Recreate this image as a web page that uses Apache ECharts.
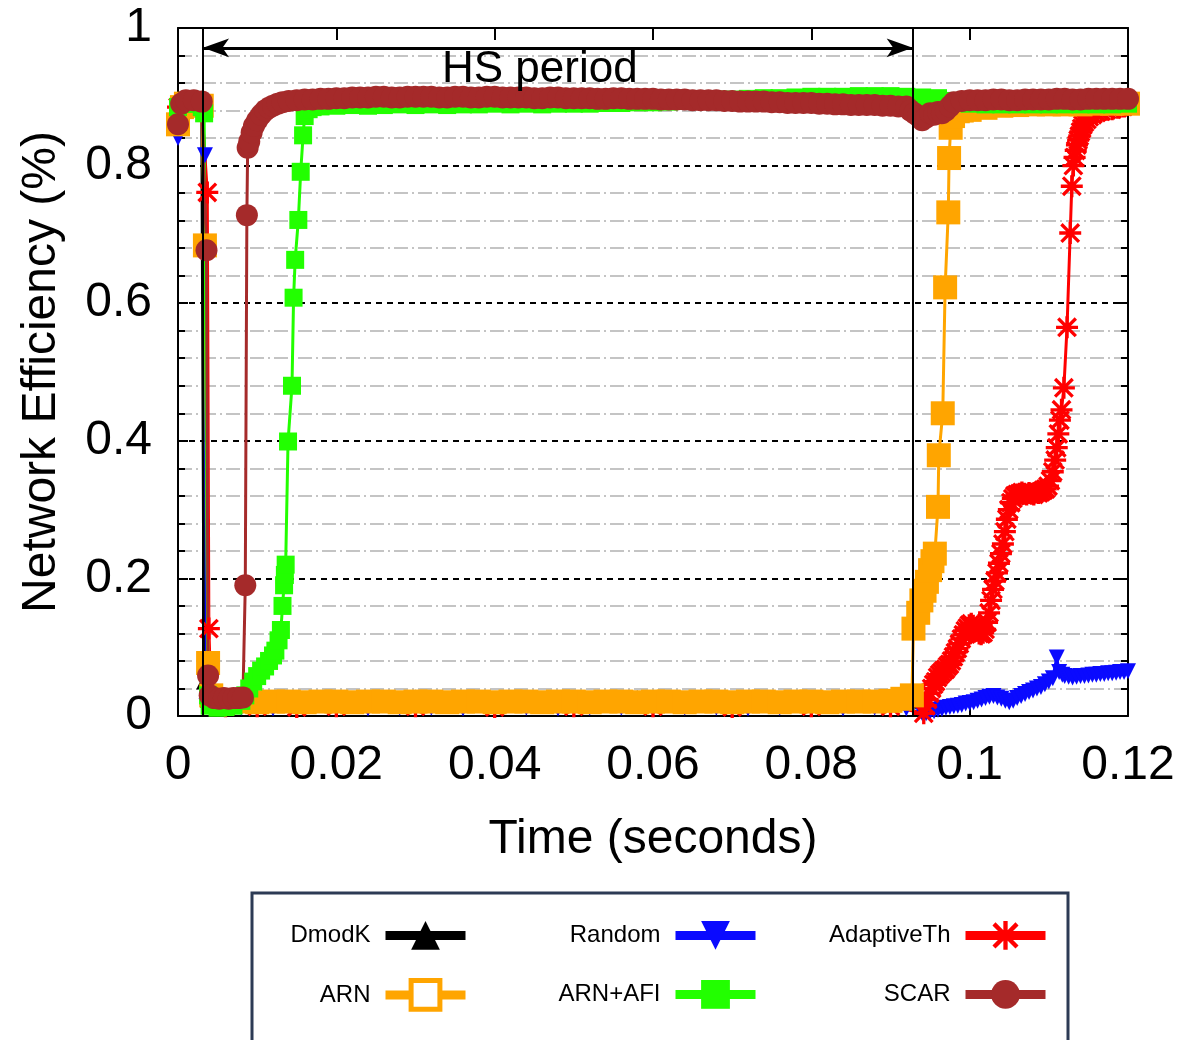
<!DOCTYPE html>
<html>
<head>
<meta charset="utf-8">
<title>Network Efficiency</title>
<script src="https://cdn.jsdelivr.net/npm/echarts@6/dist/echarts.min.js"></script>
<style>
  html, body { margin: 0; padding: 0; background: #fff; }
  #chart { width: 1189px; height: 1040px; }
</style>
</head>
<body>
<div id="chart"></div>
<script>
const FONT = 'Liberation Sans'

const xTickLabels = ['0', '0.02', '0.04', '0.06', '0.08', '0.1', '0.12']
const yTickLabels = ['0', '0.2', '0.4', '0.6', '0.8', '1']
const seriesNames = ['DmodK', 'Random', 'AdaptiveTh', 'ARN', 'ARN+AFI', 'SCAR']

// HS period boundaries (seconds)
const hsStart = 0.00316
const hsEnd = 0.0928

// [time, efficiency]
const dmodK = [
  [0, 0.885], [0.001, 0.89], [0.002, 0.89], [0.003, 0.888], [0.0033, 0.05], [0.0038, 0.024],
  [0.006, 0.022], [0.01, 0.023], [0.014, 0.022], [0.018, 0.023], [0.022, 0.022], [0.026, 0.024],
  [0.03, 0.027], [0.034, 0.022], [0.038, 0.022], [0.042, 0.022], [0.046, 0.023], [0.05, 0.022],
  [0.054, 0.022], [0.058, 0.026], [0.062, 0.023], [0.066, 0.022], [0.07, 0.023], [0.074, 0.022],
  [0.078, 0.022], [0.082, 0.023], [0.086, 0.026], [0.09, 0.022], [0.0925, 0.022]
]

const random = [
  [0, 0.84], [0.001, 0.885], [0.002, 0.89], [0.003, 0.886], [0.0034, 0.815], [0.0036, 0.014],
  [0.004, 0.012], [0.008, 0.012], [0.012, 0.011], [0.016, 0.012], [0.02, 0.012], [0.024, 0.011],
  [0.028, 0.012], [0.032, 0.012], [0.036, 0.011], [0.04, 0.012], [0.044, 0.012], [0.048, 0.011],
  [0.052, 0.012], [0.056, 0.012], [0.06, 0.011], [0.064, 0.012], [0.068, 0.012], [0.072, 0.011],
  [0.076, 0.012], [0.08, 0.012], [0.084, 0.011], [0.088, 0.012], [0.092, 0.011], [0.094, 0.004],
  [0.0945, 0.004], [0.095, 0.006], [0.0955, 0.007], [0.096, 0.009], [0.0965, 0.01], [0.097, 0.012],
  [0.0975, 0.013], [0.098, 0.014], [0.0985, 0.015], [0.099, 0.016], [0.0995, 0.018], [0.1, 0.019],
  [0.1005, 0.02], [0.101, 0.022], [0.1015, 0.024], [0.102, 0.026], [0.1025, 0.028], [0.103, 0.029],
  [0.1035, 0.027], [0.104, 0.025], [0.1045, 0.022], [0.105, 0.02], [0.1055, 0.022], [0.106, 0.026],
  [0.1065, 0.029], [0.107, 0.032], [0.1075, 0.035], [0.108, 0.037], [0.1085, 0.04], [0.109, 0.042],
  [0.1095, 0.046], [0.11, 0.05], [0.1105, 0.055], [0.111, 0.085], [0.1113, 0.064], [0.1117, 0.06],
  [0.112, 0.058], [0.1125, 0.057], [0.113, 0.056], [0.1135, 0.057], [0.114, 0.058], [0.1145, 0.058],
  [0.115, 0.059], [0.1155, 0.06], [0.116, 0.06], [0.1165, 0.061], [0.117, 0.061], [0.1175, 0.062],
  [0.118, 0.062], [0.1185, 0.063], [0.119, 0.064], [0.1195, 0.064], [0.12, 0.065]
]

const adaptiveTh = [
  [0, 0.885], [0.001, 0.89], [0.002, 0.89], [0.003, 0.886], [0.0037, 0.761], [0.0039, 0.127],
  [0.0042, 0.016], [0.006, 0.014], [0.01, 0.014], [0.015, 0.013], [0.02, 0.014], [0.03, 0.014],
  [0.04, 0.013], [0.05, 0.014], [0.06, 0.014], [0.07, 0.013], [0.08, 0.014], [0.09, 0.014],
  [0.0942, 0.004], [0.09445, 0.015], [0.0947, 0.024], [0.09495, 0.033], [0.0952, 0.04], [0.09545, 0.046],
  [0.0957, 0.05], [0.09595, 0.056], [0.0962, 0.06], [0.09645, 0.063], [0.0967, 0.066], [0.09695, 0.068],
  [0.0972, 0.072], [0.09745, 0.075], [0.0977, 0.08], [0.09795, 0.086], [0.0982, 0.092], [0.09845, 0.098],
  [0.0987, 0.105], [0.09895, 0.112], [0.0992, 0.118], [0.09945, 0.124], [0.0997, 0.128], [0.09995, 0.132],
  [0.1002, 0.134], [0.10045, 0.131], [0.1007, 0.127], [0.10095, 0.124], [0.1012, 0.12], [0.10145, 0.119],
  [0.1017, 0.121], [0.10195, 0.126], [0.1022, 0.136], [0.10245, 0.15], [0.1027, 0.168], [0.10295, 0.184],
  [0.1032, 0.196], [0.10345, 0.208], [0.1037, 0.222], [0.10395, 0.236], [0.1042, 0.25], [0.10445, 0.268],
  [0.1047, 0.286], [0.10495, 0.3], [0.1052, 0.31], [0.10545, 0.316], [0.1057, 0.32], [0.106, 0.322],
  [0.1063, 0.323], [0.1066, 0.325], [0.1069, 0.323], [0.1072, 0.322], [0.1075, 0.324], [0.1078, 0.323],
  [0.1081, 0.322], [0.1084, 0.325], [0.1087, 0.324], [0.109, 0.326], [0.1093, 0.328], [0.1096, 0.33],
  [0.1099, 0.334], [0.1102, 0.342], [0.1105, 0.355], [0.1108, 0.372], [0.111, 0.39], [0.1112, 0.41],
  [0.1114, 0.43], [0.1116, 0.445], [0.1119, 0.477], [0.1123, 0.565], [0.1127, 0.702], [0.1129, 0.77],
  [0.1131, 0.8], [0.11325, 0.812], [0.1134, 0.822], [0.11355, 0.83], [0.1137, 0.837], [0.11385, 0.843],
  [0.114, 0.849], [0.11415, 0.854], [0.1143, 0.859], [0.1145, 0.863], [0.1148, 0.867], [0.1151, 0.871],
  [0.1155, 0.874], [0.116, 0.877], [0.1166, 0.879], [0.1173, 0.881], [0.118, 0.882], [0.1187, 0.884],
  [0.1194, 0.886], [0.12, 0.888]
]

const arn = [
  [0, 0.86], [0.0005, 0.885], [0.001, 0.89], [0.002, 0.89], [0.003, 0.887], [0.0034, 0.684],
  [0.0038, 0.077], [0.0042, 0.03], [0.005, 0.022], [0.006, 0.021], [0.008, 0.021], [0.01, 0.02],
  [0.012, 0.021], [0.014, 0.021], [0.016, 0.02], [0.018, 0.021], [0.02, 0.021], [0.022, 0.02],
  [0.024, 0.021], [0.026, 0.021], [0.028, 0.02], [0.03, 0.021], [0.032, 0.021], [0.034, 0.02],
  [0.036, 0.021], [0.038, 0.021], [0.04, 0.02], [0.042, 0.021], [0.044, 0.021], [0.046, 0.02],
  [0.048, 0.021], [0.05, 0.021], [0.052, 0.02], [0.054, 0.021], [0.056, 0.021], [0.058, 0.02],
  [0.06, 0.021], [0.062, 0.021], [0.064, 0.02], [0.066, 0.021], [0.068, 0.021], [0.07, 0.02],
  [0.072, 0.021], [0.074, 0.021], [0.076, 0.02], [0.078, 0.021], [0.08, 0.021], [0.082, 0.02],
  [0.084, 0.021], [0.086, 0.021], [0.088, 0.021], [0.09, 0.022], [0.0915, 0.025], [0.0927, 0.03],
  [0.0929, 0.127], [0.0935, 0.15], [0.0939, 0.168], [0.0943, 0.182], [0.0946, 0.195], [0.095, 0.212],
  [0.0953, 0.225], [0.0956, 0.236], [0.096, 0.304], [0.0961, 0.379], [0.0966, 0.44], [0.0969, 0.623],
  [0.0973, 0.732], [0.0974, 0.811], [0.0976, 0.855], [0.0979, 0.872], [0.0985, 0.879], [0.099, 0.88],
  [0.1, 0.881], [0.102, 0.884], [0.104, 0.887], [0.106, 0.888], [0.108, 0.889], [0.11, 0.889],
  [0.112, 0.889], [0.114, 0.889], [0.116, 0.89], [0.118, 0.89], [0.12, 0.89]
]

const arnAfi = [
  [0, 0.885], [0.001, 0.89], [0.002, 0.89], [0.003, 0.885], [0.0033, 0.876],
  [0.0038, 0.03], [0.004, 0.015], [0.005, 0.012], [0.006, 0.013], [0.007, 0.015], [0.008, 0.022],
  [0.0085, 0.03], [0.009, 0.04], [0.0095, 0.05], [0.01, 0.058], [0.0105, 0.066], [0.011, 0.072],
  [0.0115, 0.08], [0.012, 0.088], [0.0123, 0.095], [0.0127, 0.11], [0.013, 0.125], [0.0132, 0.16],
  [0.0134, 0.19], [0.0135, 0.205], [0.0136, 0.22], [0.0139, 0.399], [0.0144, 0.48], [0.0146, 0.608],
  [0.0148, 0.663], [0.0152, 0.721], [0.0155, 0.791], [0.0158, 0.844], [0.016, 0.872], [0.0165, 0.882],
  [0.017, 0.885], [0.018, 0.886], [0.02, 0.887], [0.022, 0.888], [0.024, 0.887], [0.026, 0.888],
  [0.028, 0.889], [0.03, 0.888], [0.032, 0.889], [0.034, 0.888], [0.036, 0.889], [0.038, 0.889],
  [0.04, 0.89], [0.042, 0.889], [0.044, 0.89], [0.046, 0.889], [0.048, 0.89], [0.05, 0.89],
  [0.052, 0.89], [0.054, 0.891], [0.056, 0.891], [0.058, 0.892], [0.06, 0.892], [0.062, 0.893],
  [0.064, 0.894], [0.066, 0.895], [0.068, 0.896], [0.07, 0.896], [0.072, 0.897], [0.074, 0.898],
  [0.076, 0.898], [0.078, 0.899], [0.08, 0.9], [0.082, 0.9], [0.084, 0.9], [0.086, 0.901],
  [0.088, 0.901], [0.09, 0.901], [0.092, 0.9], [0.094, 0.899], [0.096, 0.898], [0.098, 0.894],
  [0.1, 0.89], [0.102, 0.889], [0.104, 0.889], [0.106, 0.889], [0.108, 0.889], [0.11, 0.889],
  [0.112, 0.889], [0.114, 0.889], [0.116, 0.889], [0.118, 0.889], [0.12, 0.89]
]

const scar = [
  [0, 0.86], [0.0004, 0.89], [0.001, 0.895], [0.002, 0.895], [0.003, 0.893], [0.0036, 0.677],
  [0.0038, 0.059], [0.004, 0.03], [0.0046, 0.026], [0.0052, 0.025], [0.0058, 0.026], [0.0064, 0.025],
  [0.007, 0.026], [0.0076, 0.026], [0.0082, 0.027], [0.0085, 0.19], [0.0087, 0.728], [0.0088, 0.826],
  [0.009, 0.835], [0.0093, 0.848], [0.0096, 0.858], [0.01, 0.866], [0.0105, 0.874], [0.011, 0.88],
  [0.0115, 0.884], [0.012, 0.887], [0.0126, 0.89], [0.0132, 0.892], [0.014, 0.894], [0.015, 0.895],
  [0.016, 0.896], [0.017, 0.896], [0.018, 0.897], [0.019, 0.897], [0.02, 0.898], [0.021, 0.898],
  [0.022, 0.899], [0.023, 0.899], [0.024, 0.899], [0.025, 0.9], [0.026, 0.9], [0.027, 0.899],
  [0.028, 0.899], [0.029, 0.9], [0.03, 0.9], [0.031, 0.9], [0.032, 0.9], [0.033, 0.899],
  [0.034, 0.899], [0.035, 0.9], [0.036, 0.9], [0.037, 0.899], [0.038, 0.899], [0.039, 0.9],
  [0.04, 0.9], [0.041, 0.899], [0.042, 0.899], [0.043, 0.899], [0.044, 0.899], [0.045, 0.898],
  [0.046, 0.898], [0.047, 0.899], [0.048, 0.899], [0.049, 0.898], [0.05, 0.898], [0.051, 0.898],
  [0.052, 0.898], [0.053, 0.897], [0.054, 0.897], [0.055, 0.898], [0.056, 0.898], [0.057, 0.897],
  [0.058, 0.897], [0.059, 0.897], [0.06, 0.897], [0.061, 0.896], [0.062, 0.896], [0.063, 0.896],
  [0.064, 0.896], [0.065, 0.895], [0.066, 0.895], [0.067, 0.895], [0.068, 0.895], [0.069, 0.894],
  [0.07, 0.894], [0.071, 0.893], [0.072, 0.893], [0.073, 0.893], [0.074, 0.893], [0.075, 0.892],
  [0.076, 0.892], [0.077, 0.891], [0.078, 0.891], [0.079, 0.891], [0.08, 0.891], [0.081, 0.89],
  [0.082, 0.89], [0.083, 0.889], [0.084, 0.889], [0.085, 0.888], [0.086, 0.888], [0.087, 0.888],
  [0.088, 0.888], [0.089, 0.887], [0.09, 0.887], [0.091, 0.886], [0.092, 0.886], [0.0925, 0.88],
  [0.093, 0.876], [0.0935, 0.872], [0.094, 0.866], [0.0945, 0.87], [0.095, 0.876], [0.0955, 0.874],
  [0.096, 0.878], [0.0965, 0.876], [0.097, 0.88], [0.0975, 0.886], [0.098, 0.892], [0.099, 0.894],
  [0.1, 0.895], [0.101, 0.895], [0.102, 0.895], [0.103, 0.896], [0.104, 0.896], [0.105, 0.895],
  [0.106, 0.895], [0.107, 0.896], [0.108, 0.896], [0.109, 0.896], [0.11, 0.896], [0.111, 0.897],
  [0.112, 0.897], [0.113, 0.896], [0.114, 0.896], [0.115, 0.897], [0.116, 0.897], [0.117, 0.897],
  [0.118, 0.897], [0.119, 0.897], [0.12, 0.897]
]

const asterisk = 'path://M8.5,0H11.5V20H8.5Z M0,8.5H20V11.5H0Z' +
  ' M3.06,0.94L19.06,16.94L16.94,19.06L0.94,3.06Z M16.94,0.94L19.06,3.06L3.06,19.06L0.94,16.94Z'
const downTriangle = 'path://M0,0L20,0L10,18Z'

function lineSeries(name, data, color, symbol, size) {
  return {
    name: name,
    type: 'line',
    data: data,
    symbol: symbol,
    symbolSize: size,
    showSymbol: true,
    showAllSymbol: true,
    lineStyle: { color: color, width: 3 },
    itemStyle: { color: color },
    emphasis: { disabled: true },
    z: 3
  }
}

function legendAt(name, right, top, extra) {
  return {
    data: [Object.assign({ name: name }, extra || {})],
    right: right,
    top: top,
    align: 'right',
    padding: 0,
    itemWidth: 80,
    itemHeight: 36,
    selectedMode: false,
    lineStyle: { width: 9 },
    textStyle: { fontFamily: FONT, fontSize: 24, color: '#000', padding: [0, 10, 0, 0] }
  }
}

const noZero = { onZero: false, lineStyle: { color: '#000', width: 2 } }

const chart = echarts.init(document.getElementById('chart'))

chart.setOption({
  animation: false,
  backgroundColor: '#fff',
  grid: { left: 178, right: 61, top: 28, bottom: 324 },
  legend: [
    legendAt(seriesNames[0], 719, 921),
    legendAt(seriesNames[1], 429, 921),
    legendAt(seriesNames[2], 139, 921),
    legendAt(seriesNames[3], 719, 978, { itemStyle: { color: '#fff', borderColor: '#ffa500', borderWidth: 5 } }),
    legendAt(seriesNames[4], 429, 980),
    legendAt(seriesNames[5], 139, 980)
  ],
  graphic: [{
    type: 'rect',
    shape: { x: 252, y: 893, width: 816, height: 170 },
    style: { fill: 'none', stroke: '#2d3b55', lineWidth: 3 },
    silent: true
  }],
  xAxis: [{
    type: 'value',
    position: 'bottom',
    min: 0,
    max: 0.12,
    interval: 0.02,
    name: 'Time (seconds)',
    nameLocation: 'middle',
    nameGap: 100,
    nameTextStyle: { fontFamily: FONT, fontSize: 48, color: '#000' },
    axisLine: noZero,
    axisTick: { inside: true, length: 10, lineStyle: { color: '#000', width: 2 } },
    axisLabel: {
      margin: 26,
      fontFamily: FONT,
      fontSize: 48,
      color: '#000',
      formatter: (v) => xTickLabels[Math.round(v / 0.02)]
    },
    splitLine: { show: false }
  }, {
    type: 'value',
    position: 'top',
    min: 0,
    max: 0.12,
    interval: 0.02,
    axisLine: noZero,
    axisTick: { inside: true, length: 12, lineStyle: { color: '#000', width: 2 } },
    axisLabel: { show: false },
    splitLine: { show: false }
  }],
  yAxis: [{
    type: 'value',
    position: 'left',
    min: 0,
    max: 1,
    interval: 0.2,
    name: 'Network Efficiency (%)',
    nameLocation: 'middle',
    nameGap: 112,
    nameTextStyle: { fontFamily: FONT, fontSize: 48, color: '#000' },
    axisLine: noZero,
    axisTick: { inside: true, length: 10, lineStyle: { color: '#000', width: 2 } },
    minorTick: { show: true, splitNumber: 5, length: 7, lineStyle: { color: '#000', width: 2 } },
    axisLabel: {
      margin: 26,
      fontFamily: FONT,
      fontSize: 48,
      color: '#000',
      formatter: (v) => yTickLabels[Math.round(v / 0.2)]
    },
    splitLine: { show: true, lineStyle: { color: '#000', width: 2, type: [6, 5] } },
    minorSplitLine: { show: true, lineStyle: { color: '#c4c4c4', width: 2, type: [14, 4, 2, 4] } }
  }, {
    type: 'value',
    position: 'right',
    min: 0,
    max: 1,
    interval: 0.2,
    axisLine: noZero,
    axisTick: { inside: true, length: 10, lineStyle: { color: '#000', width: 2 } },
    minorTick: { show: true, splitNumber: 5, length: 7, lineStyle: { color: '#000', width: 2 } },
    axisLabel: { show: false },
    splitLine: { show: false }
  }],
  series: [
    {
      // HS period boundaries
      type: 'line',
      data: [],
      z: 1,
      silent: true,
      markLine: {
        silent: true,
        animation: false,
        precision: 6,
        symbol: 'none',
        label: { show: false },
        lineStyle: { color: '#000', width: 2, type: 'solid' },
        data: [{ xAxis: hsStart }, { xAxis: hsEnd }]
      }
    },
    {
      type: 'line',
      data: [],
      z: 1,
      silent: true,
      markLine: {
        silent: true,
        animation: false,
        precision: 6,
        symbol: ['arrow', 'arrow'],
        symbolSize: [14, 26],
        label: { show: false },
        lineStyle: { color: '#000', width: 3, type: 'solid' },
        data: [[{ coord: [hsStart, 0.9712] }, { coord: [hsEnd, 0.9712] }]]
      },
      markPoint: {
        silent: true,
        animation: false,
        symbol: 'circle',
        symbolSize: 1,
        itemStyle: { color: 'transparent' },
        label: {
          show: true,
          position: 'inside',
          formatter: 'HS period',
          fontFamily: FONT,
          fontSize: 44,
          color: '#000'
        },
        data: [{ coord: [0.0457, 0.939] }]
      }
    },
    lineSeries(seriesNames[0], dmodK, '#000000', 'triangle', 16),
    lineSeries(seriesNames[1], random, '#0a0aff', downTriangle, 16),
    lineSeries(seriesNames[2], adaptiveTh, '#ff0000', asterisk, 22),
    lineSeries(seriesNames[3], arn, '#ffa500', 'rect', 24),
    lineSeries(seriesNames[4], arnAfi, '#22ff00', 'rect', 18),
    lineSeries(seriesNames[5], scar, '#a52a2a', 'circle', 22)
  ]
})
</script>
</body>
</html>
